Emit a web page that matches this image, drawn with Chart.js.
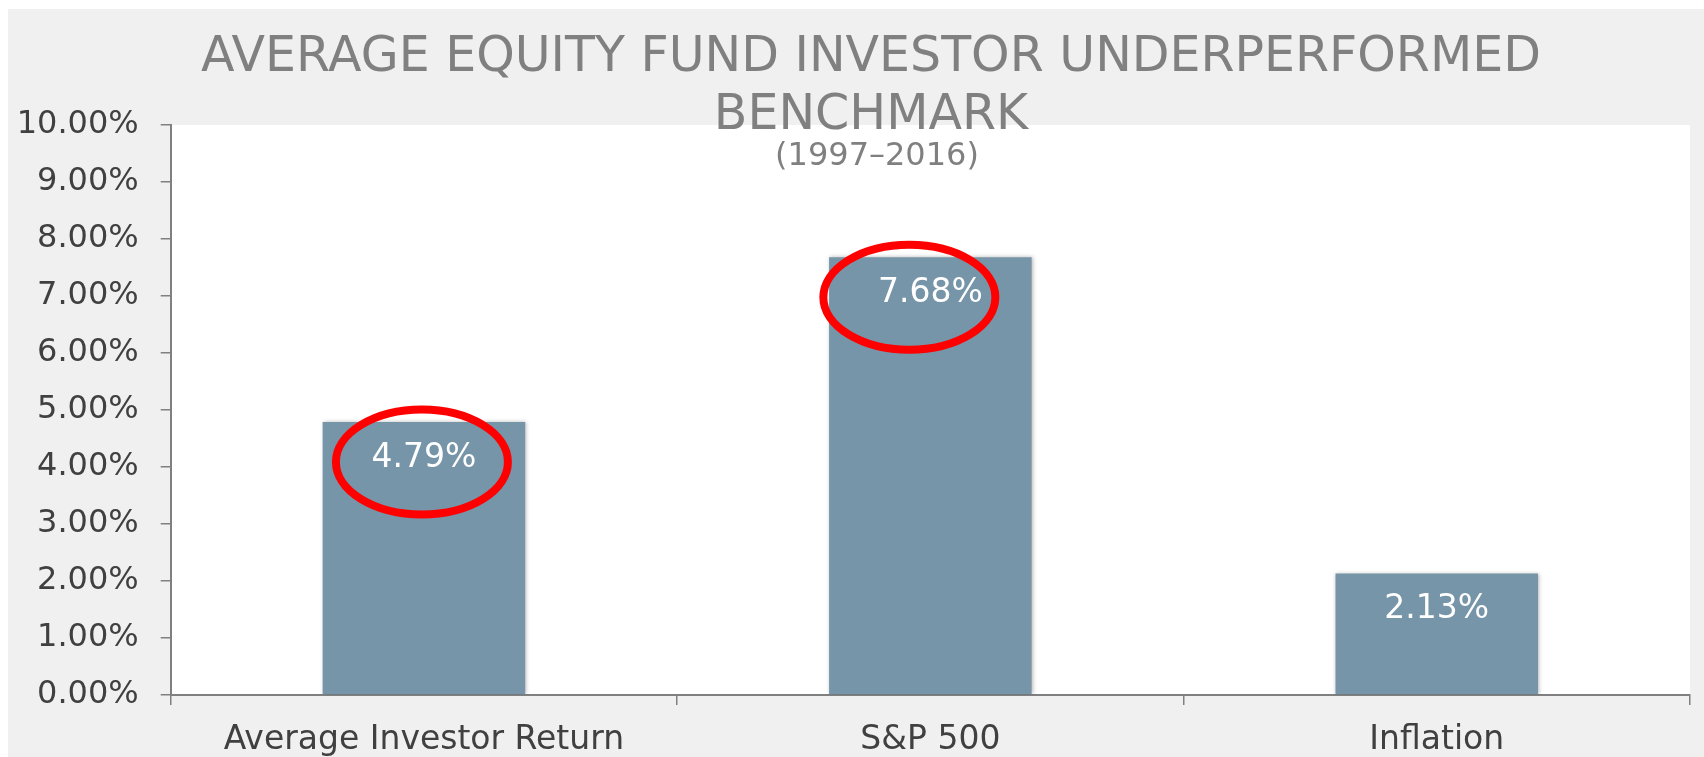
<!DOCTYPE html>
<html>
<head>
<meta charset="utf-8">
<script src="https://cdn.jsdelivr.net/npm/chart.js@4/dist/chart.umd.min.js"></script>
<style>
    html, body { margin: 0; padding: 0; background: #ffffff; }
    #wrap { width: 1704px; height: 757px; position: relative; }
</style>
</head>
<body>
<div id="wrap"><canvas id="returnsChart" width="1704" height="757"></canvas></div>
<script>
// Data
const categories = ['Average Investor Return', 'S&P 500', 'Inflation'];
const returns = [4.79, 7.68, 2.13];
const circledBars = [0, 1];
const yMin = 0;
const yMax = 10;
const yStep = 1;

const titleLines = ['AVERAGE EQUITY FUND INVESTOR UNDERPERFORMED', 'BENCHMARK'];
const subtitleText = '(1997\u20132016)';

const axisGray = '#808080';
const labelColor = '#404040';
const barColor = '#7795a8';

// Gray frame + white plot area
const backgroundPlugin = {
    id: 'backgroundPlugin',
    beforeDraw(chart) {
        const ctx = chart.ctx;
        const area = chart.chartArea;
        ctx.save();
        ctx.fillStyle = '#ffffff';
        ctx.fillRect(0, 0, chart.width, chart.height);
        ctx.fillStyle = '#f0f0f0';
        ctx.fillRect(8, 9, chart.width - 8, chart.height - 9);
        ctx.fillStyle = '#ffffff';
        ctx.fillRect(area.left, area.top, area.right - area.left, area.bottom - area.top);
        ctx.restore();
    }
};

// the title block in the original sits a bit right of the canvas centre
const titleShift = {
    id: 'titleShift',
    afterLayout(chart) {
        chart.boxes.forEach((box) => {
            if (box.position === 'top' && box.options && box.options.text !== undefined) {
                const shift = Array.isArray(box.options.text) ? 20 : 26;
                box.left += shift;
                box.right += shift;
            }
        });
    }
};

// soft shadow behind the bars
const barShadow = {
    id: 'barShadow',
    beforeDatasetsDraw(chart) {
        const ctx = chart.ctx;
        ctx.save();
        ctx.shadowColor = 'rgba(0, 0, 0, 0.28)';
        ctx.shadowBlur = 4;
        ctx.shadowOffsetX = 1;
        ctx.shadowOffsetY = 0;
    },
    afterDatasetsDraw(chart) {
        chart.ctx.restore();
    }
};

// Value labels inside the bars and red circles round two of them
const valueLabels = {
    id: 'valueLabels',
    afterDatasetsDraw(chart) {
        const ctx = chart.ctx;
        const meta = chart.getDatasetMeta(0);
        ctx.save();
        ctx.font = '33px "DejaVu Sans"';
        ctx.fillStyle = '#ffffff';
        ctx.textAlign = 'center';
        ctx.textBaseline = 'middle';
        meta.data.forEach((bar, i) => {
            ctx.fillText(returns[i].toFixed(2) + '%', bar.x, bar.y + 36);
        });

        ctx.strokeStyle = '#ff0000';
        ctx.lineWidth = 8;
        circledBars.forEach((i) => {
            const bar = meta.data[i];
            const dx = i === 0 ? -2 : -21;
            ctx.beginPath();
            ctx.ellipse(bar.x + dx, bar.y + 40, 86, 52.5, 0, 0, Math.PI * 2);
            ctx.stroke();
        });
        ctx.restore();
    }
};

const ctx = document.getElementById('returnsChart').getContext('2d');
new Chart(ctx, {
    type: 'bar',
    data: {
        labels: categories,
        datasets: [{
            label: 'Annualized return',
            data: returns,
            backgroundColor: barColor,
            borderWidth: 0,
            barPercentage: 0.4,
            categoryPercentage: 1.0
        }]
    },
    options: {
        responsive: false,
        animation: false,
        devicePixelRatio: 1,
        layout: {
            padding: { left: 12, right: 14, top: 0, bottom: 0 }
        },
        plugins: {
            legend: { display: false },
            tooltip: { enabled: false },
            title: {
                display: true,
                text: titleLines,
                color: axisGray,
                font: { family: '"DejaVu Sans"', size: 49, weight: 'normal', lineHeight: 1.184 },
                padding: { top: 29, bottom: -20 }
            },
            subtitle: {
                display: true,
                text: subtitleText,
                color: axisGray,
                font: { family: '"DejaVu Sans"', size: 32, weight: 'normal', lineHeight: 1.2 },
                padding: { top: 12, bottom: -50.4 }
            }
        },
        scales: {
            x: {
                afterFit(scale) { scale.height = 62; },
                border: { display: true, color: axisGray, width: 2 },
                grid: {
                    display: true,
                    offset: true,
                    drawOnChartArea: false,
                    drawTicks: true,
                    tickLength: 10,
                    color: axisGray,
                    lineWidth: 1.5
                },
                ticks: {
                    color: labelColor,
                    font: { family: '"DejaVu Sans"', size: 33 },
                    padding: 16,
                    maxRotation: 0,
                    autoSkip: false
                }
            },
            y: {
                min: yMin,
                max: yMax,
                afterFit(scale) { scale.width = 158.7; },
                border: { display: true, color: axisGray, width: 2 },
                grid: {
                    drawOnChartArea: false,
                    drawTicks: true,
                    tickLength: 10,
                    color: axisGray,
                    lineWidth: 1.5
                },
                ticks: {
                    stepSize: yStep,
                    color: labelColor,
                    font: { family: '"DejaVu Sans"', size: 32 },
                    padding: 22,
                    callback: (value) => value.toFixed(2) + '%'
                }
            }
        }
    },
    plugins: [backgroundPlugin, titleShift, barShadow, valueLabels]
});
</script>
</body>
</html>
